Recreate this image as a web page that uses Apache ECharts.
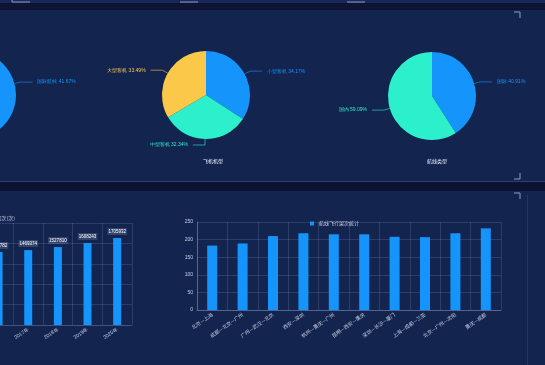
<!DOCTYPE html>
<html><head><meta charset="utf-8">
<script src="https://cdn.jsdelivr.net/npm/echarts@6/dist/echarts.min.js"></script>
<style>html,body{margin:0;padding:0;background:#0c1637;overflow:hidden;}#c{position:absolute;left:-48px;top:0;width:593px;height:365px;}</style>
</head><body><div id="c"></div>
<script>
// ---- data ----
const pie1Names = ['国际航线', '国内航线'];
const pie1Values = [41.67, 58.33];
const pie2Names = ['小型客机', '中型客机', '大型客机'];
const pie2Values = [34.17, 32.34, 33.49];
const pie3Names = ['国际', '国内'];
const pie3Values = [40.91, 59.09];
const pie2Title = '飞机机型';
const pie3Title = '航线类型';

const yearCats = ['2015年', '2016年', '2017年', '2018年', '2019年', '2020年'];
const yearValues = [1382156, 1431782, 1469374, 1527810, 1608243, 1705932];
const yearAxisName = '年度飞行架次(次)';

const routeCats = ['北京—上海', '成都—北京—广州', '广州—武汉—北京', '西安—深圳', '杭州—重庆—广州', '昆明—西安—重庆', '深圳—长沙—厦门', '上海—成都—三亚', '北京—广州—沈阳', '重庆—成都'];
const routeValues = [183, 189, 210, 218, 215, 215, 208, 207, 218, 232];
const routeLegend = '航线飞行架次统计';

const blue = '#1595fb', cyan = '#2cf0cc', yellow = '#fcc84a';
const panel = '#13244f';
const gridLine = 'rgba(160,180,230,0.18)';
const txt = '#c9d2e6';
const X0 = 48; // container is shifted left by this many px

function pieSeries(names, values, colors, center) {
  return {
    type: 'pie', radius: 44, center: center, startAngle: 90,
    data: names.map((n, i) => ({ name: n, value: values[i], itemStyle: { color: colors[i] },
      label: { color: colors[i] }, labelLine: { lineStyle: { color: colors[i] } } })),
    label: { fontSize: 5, formatter: p => p.name + ' ' + p.value.toFixed(2) + '%' },
    labelLine: { length: 6, length2: 12, lineStyle: { width: 0.6 } },
    emphasis: { disabled: true }, animation: false
  };
}

const chart = echarts.init(document.getElementById('c'), null, { renderer: 'canvas' });
const corner = (pts) => ({ type: 'polyline', shape: { points: pts.map(p => [p[0] + X0, p[1]]) }, style: { stroke: '#8d9dc5', lineWidth: 1, fill: null }, z: 1 });
const band = (y, h, fill) => ({ type: 'rect', shape: { x: 0, y: y, width: 593, height: h }, style: { fill: fill }, z: 0 });
chart.setOption({
  animation: false,
  backgroundColor: '#0c1637',
  graphic: [
    band(0, 3, '#16285a'),
    band(3, 7, '#0e1534'),
    band(10, 172, panel),
    band(181, 1, '#2c4078'),
    band(182, 9, '#0b1333'),
    band(191, 174, panel),
    { type: 'rect', shape: { x: 527 + X0, y: 195, width: 1, height: 170 }, style: { fill: '#223767' }, z: 0 },
    corner([[12, 0], [12, 2], [30, 2]]),
    corner([[180, 2], [198, 2]]),
    corner([[347, 2], [365, 2]]),
    corner([[514, 12], [520, 12], [520, 18]]),
    corner([[520, 173], [520, 179], [514, 179]]),
    corner([[514, 193], [520, 193], [520, 199]]),
    { type: 'text', x: 15 + X0, y: 216, style: { text: yearAxisName, fill: txt, font: '5px "Noto Sans CJK SC"', textAlign: 'right', align: 'right' }, z: 3 }
  ],
  title: [
    { text: pie2Title, left: 208 + X0, top: 154, textAlign: 'center', textStyle: { color: '#e8eefc', fontSize: 5, fontWeight: 'normal', fontFamily: 'Noto Sans CJK SC' } },
    { text: pie3Title, left: 432 + X0, top: 154, textAlign: 'center', textStyle: { color: '#e8eefc', fontSize: 5, fontWeight: 'normal', fontFamily: 'Noto Sans CJK SC' } }
  ],
  legend: { data: [routeLegend], left: 305 + X0, top: 216, itemWidth: 4, itemHeight: 4, icon: 'rect', itemGap: 3,
    textStyle: { color: txt, fontSize: 5, fontFamily: 'Noto Sans CJK SC' } },
  grid: [
    { left: X0 - 48, top: 223, width: 180, height: 102 },
    { left: 197 + X0, top: 222, width: 304, height: 88 }
  ],
  xAxis: [
    { type: 'category', gridIndex: 0, data: yearCats,
      axisLine: { lineStyle: { color: gridLine } }, axisTick: { show: false },
      splitLine: { show: true, lineStyle: { color: gridLine } },
      axisLabel: { color: txt, fontSize: 5, rotate: 35, interval: 0, margin: 4 } },
    { type: 'category', gridIndex: 1, data: routeCats,
      axisLine: { lineStyle: { color: 'rgba(160,180,230,0.35)' } }, axisTick: { show: false },
      splitLine: { show: true, lineStyle: { color: gridLine } },
      axisLabel: { color: txt, fontSize: 5, rotate: 35, interval: 0, margin: 4, fontFamily: 'Noto Sans CJK SC' } }
  ],
  yAxis: [
    { type: 'value', gridIndex: 0, min: 0, max: 2000000, interval: 400000,
      axisLine: { show: false }, axisTick: { show: false }, axisLabel: { show: false },
      splitLine: { lineStyle: { color: gridLine } } },
    { type: 'value', gridIndex: 1, min: 0, max: 250, interval: 50,
      axisLine: { show: true, lineStyle: { color: 'rgba(160,180,230,0.35)' } }, axisTick: { show: false },
      axisLabel: { color: txt, fontSize: 5, margin: 4 },
      splitLine: { lineStyle: { color: gridLine } } }
  ],
  series: [
    pieSeries(pie1Names, pie1Values, [blue, cyan], [-28 + X0, 95]),
    pieSeries(pie2Names, pie2Values, [blue, cyan, yellow], [206 + X0, 95]),
    pieSeries(pie3Names, pie3Values, [blue, cyan], [432 + X0, 96]),
    { type: 'bar', xAxisIndex: 0, yAxisIndex: 0, data: yearValues, barWidth: 8,
      itemStyle: { color: blue },
      label: { show: true, position: 'top', distance: 3, fontSize: 4.5, color: '#ffffff',
        backgroundColor: 'rgba(200,210,235,0.18)', padding: [1, 1] } },
    { type: 'bar', name: routeLegend, xAxisIndex: 1, yAxisIndex: 1, data: routeValues, barWidth: 10,
      itemStyle: { color: blue } }
  ]
});
</script></body></html>
